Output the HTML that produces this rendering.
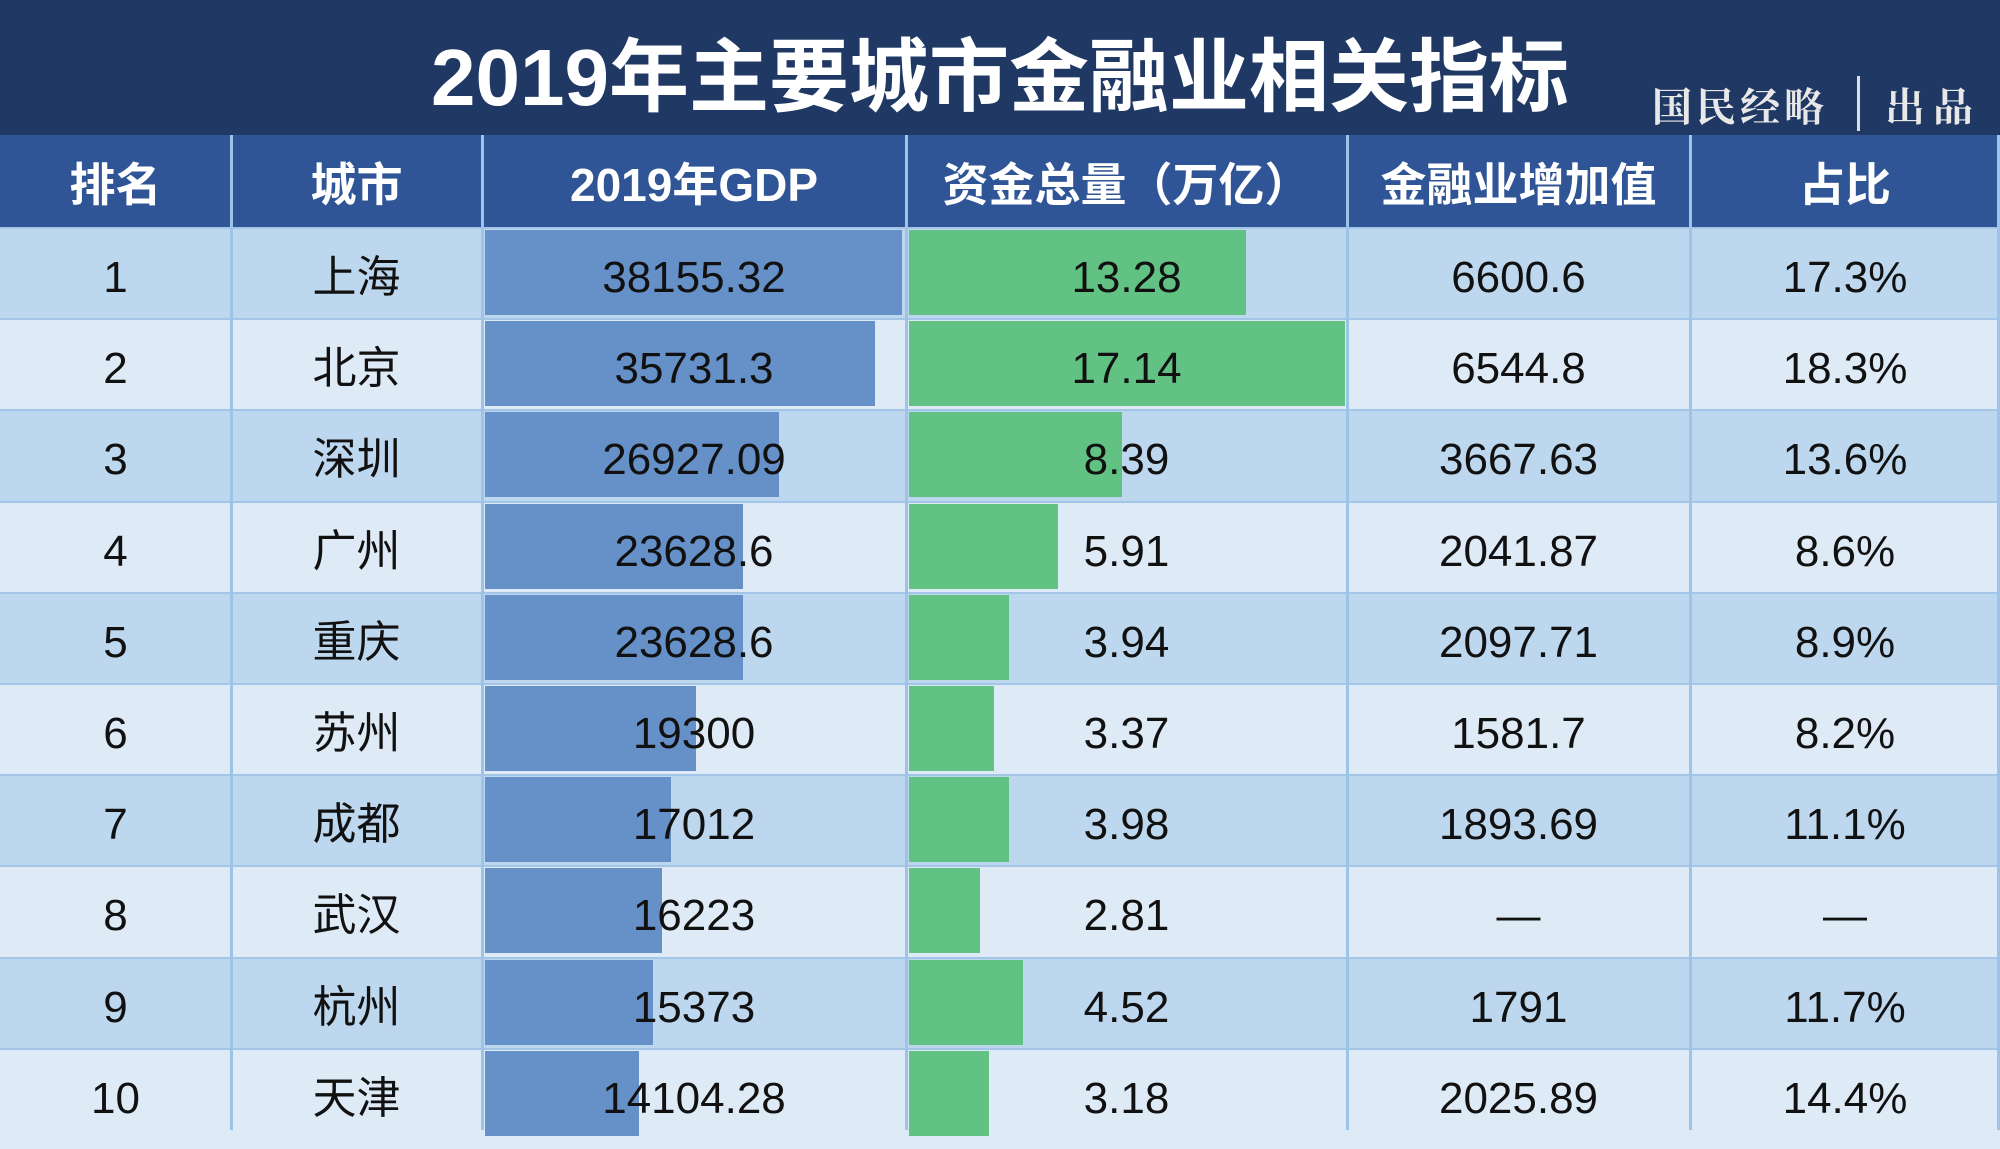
<!DOCTYPE html>
<html><head><meta charset="utf-8"><style>
body{margin:0;width:2000px;height:1130px;overflow:hidden;background:#DEEBF7;position:relative;font-family:"Liberation Sans","Noto Sans CJK SC",sans-serif}
div{position:absolute;box-sizing:border-box}
.t{position:absolute;left:0;top:0;width:2000px;height:135px;background:#203864}
.h{top:135px;height:92px;background:#2F5597;color:#fff;font-weight:bold;font-size:46px;line-height:100px;text-align:center}
.r{left:0;width:2000px;height:91.2px;border-top:2px solid #A3C6E8}
.o{background:#BDD7EE}.e{background:#DEEBF7}
.c{height:91.2px;line-height:101px;text-align:center;font-size:44px;color:#111}
.g{background:#6690C8;height:85px}
.n{background:#62C283;height:85px}
.v{top:135px;height:995px;width:3px;background:#9DC3E6}
</style></head><body>
<div class="t"></div>
<div style="left:0;top:18px;width:2000px;text-align:center;color:#fff;font-weight:bold;font-size:80px;line-height:120px">2019年主要城市金融业相关指标</div>
<div style="left:1652px;top:80px;color:#e8e8e8;font-size:40px;line-height:50px;font-family:'Noto Serif CJK SC',serif;font-weight:bold;letter-spacing:4px">国民经略</div>
<div style="left:1857px;top:76px;width:3px;height:55px;background:#ddd"></div>
<div style="left:1885px;top:80px;color:#e8e8e8;font-size:40px;line-height:50px;font-family:'Noto Serif CJK SC',serif;font-weight:bold;letter-spacing:8px">出品</div>

<div class="h" style="left:0;width:231px">排名</div>
<div class="h" style="left:231px;width:251px">城市</div>
<div class="h" style="left:482px;width:424px">2019年GDP</div>
<div class="h" style="left:906px;width:441px">资金总量（万亿）</div>
<div class="h" style="left:1347px;width:343px">金融业增加值</div>
<div class="h" style="left:1690px;width:310px">占比</div>

<div class="r o" style="top:227px"></div>
<div class="r e" style="top:318.2px"></div>
<div class="r o" style="top:409.4px"></div>
<div class="r e" style="top:500.6px"></div>
<div class="r o" style="top:591.8px"></div>
<div class="r e" style="top:683px"></div>
<div class="r o" style="top:774.2px"></div>
<div class="r e" style="top:865.4px"></div>
<div class="r o" style="top:956.6px"></div>
<div class="r e" style="top:1047.8px"></div>

<div class="g" style="left:485px;top:230px;width:417px"></div>
<div class="g" style="left:485px;top:321px;width:390px"></div>
<div class="g" style="left:485px;top:412px;width:294px"></div>
<div class="g" style="left:485px;top:504px;width:258px"></div>
<div class="g" style="left:485px;top:595px;width:258px"></div>
<div class="g" style="left:485px;top:686px;width:211px"></div>
<div class="g" style="left:485px;top:777px;width:186px"></div>
<div class="g" style="left:485px;top:868px;width:177px"></div>
<div class="g" style="left:485px;top:960px;width:168px"></div>
<div class="g" style="left:485px;top:1051px;width:154px"></div>

<div class="n" style="left:909px;top:230px;width:337px"></div>
<div class="n" style="left:909px;top:321px;width:436px"></div>
<div class="n" style="left:909px;top:412px;width:213px"></div>
<div class="n" style="left:909px;top:504px;width:149px"></div>
<div class="n" style="left:909px;top:595px;width:100px"></div>
<div class="n" style="left:909px;top:686px;width:85px"></div>
<div class="n" style="left:909px;top:777px;width:100px"></div>
<div class="n" style="left:909px;top:868px;width:71px"></div>
<div class="n" style="left:909px;top:960px;width:114px"></div>
<div class="n" style="left:909px;top:1051px;width:80px"></div>

<div class="v" style="left:230px"></div>
<div class="v" style="left:481px"></div>
<div class="v" style="left:905px"></div>
<div class="v" style="left:1346px"></div>
<div class="v" style="left:1689px"></div>
<div class="v" style="left:1997px"></div>

<div style="left:0;top:227px;width:2000px">
<div class="c" style="left:0;top:0;width:231px">1</div><div class="c" style="left:231px;top:0;width:251px">上海</div><div class="c" style="left:482px;top:0;width:424px">38155.32</div><div class="c" style="left:906px;top:0;width:441px">13.28</div><div class="c" style="left:1347px;top:0;width:343px">6600.6</div><div class="c" style="left:1690px;top:0;width:310px">17.3%</div>
<div class="c" style="left:0;top:91.2px;width:231px">2</div><div class="c" style="left:231px;top:91.2px;width:251px">北京</div><div class="c" style="left:482px;top:91.2px;width:424px">35731.3</div><div class="c" style="left:906px;top:91.2px;width:441px">17.14</div><div class="c" style="left:1347px;top:91.2px;width:343px">6544.8</div><div class="c" style="left:1690px;top:91.2px;width:310px">18.3%</div>
<div class="c" style="left:0;top:182.4px;width:231px">3</div><div class="c" style="left:231px;top:182.4px;width:251px">深圳</div><div class="c" style="left:482px;top:182.4px;width:424px">26927.09</div><div class="c" style="left:906px;top:182.4px;width:441px">8.39</div><div class="c" style="left:1347px;top:182.4px;width:343px">3667.63</div><div class="c" style="left:1690px;top:182.4px;width:310px">13.6%</div>
<div class="c" style="left:0;top:273.6px;width:231px">4</div><div class="c" style="left:231px;top:273.6px;width:251px">广州</div><div class="c" style="left:482px;top:273.6px;width:424px">23628.6</div><div class="c" style="left:906px;top:273.6px;width:441px">5.91</div><div class="c" style="left:1347px;top:273.6px;width:343px">2041.87</div><div class="c" style="left:1690px;top:273.6px;width:310px">8.6%</div>
<div class="c" style="left:0;top:364.8px;width:231px">5</div><div class="c" style="left:231px;top:364.8px;width:251px">重庆</div><div class="c" style="left:482px;top:364.8px;width:424px">23628.6</div><div class="c" style="left:906px;top:364.8px;width:441px">3.94</div><div class="c" style="left:1347px;top:364.8px;width:343px">2097.71</div><div class="c" style="left:1690px;top:364.8px;width:310px">8.9%</div>
<div class="c" style="left:0;top:456px;width:231px">6</div><div class="c" style="left:231px;top:456px;width:251px">苏州</div><div class="c" style="left:482px;top:456px;width:424px">19300</div><div class="c" style="left:906px;top:456px;width:441px">3.37</div><div class="c" style="left:1347px;top:456px;width:343px">1581.7</div><div class="c" style="left:1690px;top:456px;width:310px">8.2%</div>
<div class="c" style="left:0;top:547.2px;width:231px">7</div><div class="c" style="left:231px;top:547.2px;width:251px">成都</div><div class="c" style="left:482px;top:547.2px;width:424px">17012</div><div class="c" style="left:906px;top:547.2px;width:441px">3.98</div><div class="c" style="left:1347px;top:547.2px;width:343px">1893.69</div><div class="c" style="left:1690px;top:547.2px;width:310px">11.1%</div>
<div class="c" style="left:0;top:638.4px;width:231px">8</div><div class="c" style="left:231px;top:638.4px;width:251px">武汉</div><div class="c" style="left:482px;top:638.4px;width:424px">16223</div><div class="c" style="left:906px;top:638.4px;width:441px">2.81</div><div class="c" style="left:1347px;top:638.4px;width:343px">—</div><div class="c" style="left:1690px;top:638.4px;width:310px">—</div>
<div class="c" style="left:0;top:729.6px;width:231px">9</div><div class="c" style="left:231px;top:729.6px;width:251px">杭州</div><div class="c" style="left:482px;top:729.6px;width:424px">15373</div><div class="c" style="left:906px;top:729.6px;width:441px">4.52</div><div class="c" style="left:1347px;top:729.6px;width:343px">1791</div><div class="c" style="left:1690px;top:729.6px;width:310px">11.7%</div>
<div class="c" style="left:0;top:820.8px;width:231px">10</div><div class="c" style="left:231px;top:820.8px;width:251px">天津</div><div class="c" style="left:482px;top:820.8px;width:424px">14104.28</div><div class="c" style="left:906px;top:820.8px;width:441px">3.18</div><div class="c" style="left:1347px;top:820.8px;width:343px">2025.89</div><div class="c" style="left:1690px;top:820.8px;width:310px">14.4%</div>
</div>
</body></html>
